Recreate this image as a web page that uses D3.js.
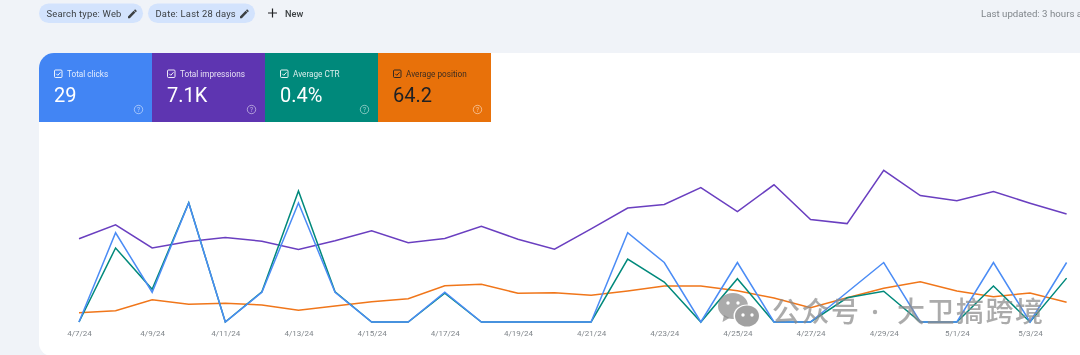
<!DOCTYPE html>
<html><head><meta charset="utf-8">
<script src="https://cdn.jsdelivr.net/npm/d3@7/dist/d3.min.js"></script>
<style>
html,body{margin:0;padding:0;background:#f0f3f8;overflow:hidden}
svg{display:block;font-family:Roboto,sans-serif;filter:blur(0.4px)}
</style></head><body>
<svg id="c" width="1080" height="355"></svg>
<script>
const dates=["4/7/24","4/8/24","4/9/24","4/10/24","4/11/24","4/12/24","4/13/24","4/14/24","4/15/24","4/16/24","4/17/24","4/18/24","4/19/24","4/20/24","4/21/24","4/22/24","4/23/24","4/24/24","4/25/24","4/26/24","4/27/24","4/28/24","4/29/24","4/30/24","5/1/24","5/2/24","5/3/24","5/4/24"];
const tickLabels=["4/7/24","4/9/24","4/11/24","4/13/24","4/15/24","4/17/24","4/19/24","4/21/24","4/23/24","4/25/24","4/27/24","4/29/24","5/1/24","5/3/24"];
const clicks=[0,3,1,4,0,1,4,1,0,0,1,0,0,0,0,3,2,0,2,0,0,1,2,0,0,2,0,2];
const impressions=[208,243,185,201,211,202,181,203,228,198,209,239,207,182,233,285,294,336,276,343,256,246,379,316,303,326,297,270];
const ctr=[0,1.13,0.5,1.82,0,0.46,2,0.46,0,0,0.44,0,0,0,0,0.96,0.61,0,0.66,0,0,0.37,0.47,0,0,0.55,0,0.67];
const position=[80.7,78.7,67.7,72.3,71.3,73,78.3,74,69.7,66.7,53.7,52.3,61.3,60.7,63.3,59,54,54,58.7,66,75.7,65.7,56.3,49.7,59,64.7,61,70.3];
const tabNames=["Total clicks","Total impressions","Average CTR","Average position"];
const tabValues=["29","7.1K","0.4%","64.2"];
const tabColors=["#4285f4","#5e35b1","#00897b","#e8710a"];
const tabInk=["#fff","#fff","#fff","#202124"];
const chips=["Search type: Web","Date: Last 28 days"];

const svg=d3.select("#c");
// card
svg.append("path").attr("fill","#fff")
 .attr("d","M1080 53H54A15 15 0 0 0 39 68V343A13 13 0 0 0 52 356H1080Z");

// filter chips
const chipBoxes=[[39,104],[148,107]];
chips.forEach((t,i)=>{
 const [x,w]=chipBoxes[i];
 const g=svg.append("g").attr("transform",`translate(${x},3.5)`);
 g.append("rect").attr("width",w).attr("height",19.5).attr("rx",9.75).attr("fill","#d3e3fd");
 g.append("text").attr("x",7.5).attr("y",13.2).attr("font-size",9.4).attr("font-weight",400).attr("letter-spacing",0.2).attr("fill","#3c4043").text(t);
 g.append("path").attr("transform",`translate(${w-15},4.7)`).attr("fill","#3c4043")
  .attr("d","M0 8.2V10H1.8L7.4 4.4 5.6 2.6ZM8.6 3.2a.5.5 0 0 0 0-.7L7.5 1.4a.5.5 0 0 0-.7 0L6 2.2 7.8 4Z");
});
svg.append("path").attr("d","M272.500 8.500v9M268 13h9").attr("stroke","#202124").attr("stroke-width",1.2).attr("fill","none");
svg.append("text").attr("x",285).attr("y",16.500).attr("font-size",9.2).attr("font-weight",500).attr("fill","#3c4043").text("New");
svg.append("text").attr("x",981).attr("y",16.500).attr("font-size",9.7).attr("fill","#80868b").text("Last updated: 3 hours ago");

// metric tabs
const tabX=d3.scaleBand().domain(tabNames).range([39,491]);
const tabs=svg.selectAll("g.tab").data(tabNames).join("g").attr("class","tab")
 .attr("transform",d=>`translate(${tabX(d)},53)`);
tabs.append("path").attr("fill",(d,i)=>tabColors[i])
 .attr("d",(d,i)=>i==0?`M0 69V15A15 15 0 0 1 15 0H${tabX.bandwidth()}V69Z`:`M0 0H${tabX.bandwidth()}V69H0Z`);
tabs.append("rect").attr("x",15.500).attr("y",17).attr("width",7.500).attr("height",7.500).attr("rx",1).attr("fill","none").attr("stroke-width",0.9).attr("stroke",(d,i)=>tabInk[i]);
tabs.append("path").attr("d","M17.300 20.800l1.500 1.500 2.700-3").attr("fill","none").attr("stroke-width",0.9).attr("stroke",(d,i)=>tabInk[i]);
tabs.append("text").attr("x",28).attr("y",23.800).attr("font-size",8.2).attr("fill",(d,i)=>tabInk[i]).attr("opacity",.85).text(d=>d);
tabs.append("text").attr("x",15).attr("y",49.300).attr("font-size",20).attr("fill",(d,i)=>tabInk[i]).text((d,i)=>tabValues[i]);
tabs.append("circle").attr("cx",99.500).attr("cy",56.500).attr("r",4.200).attr("fill","none").attr("stroke","#fff").attr("stroke-opacity",.55).attr("stroke-width",.9);
tabs.append("text").attr("x",99.500).attr("y",59).attr("text-anchor","middle").attr("font-size",6.500).attr("fill","#fff").attr("fill-opacity",.6).text("?");

// scales
const x=d3.scalePoint().domain(dates).range([79,1066.6]);
const yClicks=d3.scaleLinear().domain([0,4]).range([322,203]);
const yImp=d3.scaleLinear().domain([0,400]).range([322,162]);
const yCtr=d3.scaleLinear().domain([0,2]).range([322,191]);
const yPos=d3.scaleLinear().domain([0,90]).range([232,322]);

// axis
const ax=svg.append("g").attr("transform","translate(0,330.5)")
 .call(d3.axisBottom(x).tickValues(tickLabels).tickSize(0).tickPadding(0));
ax.select(".domain").remove();
ax.selectAll("text").attr("font-family","Roboto,sans-serif").attr("font-size",8).attr("fill","#80868b");

// lines
const series=[[position,yPos,"#f0761a"],[impressions,yImp,"#6a3fc0"],[ctr,yCtr,"#00897b"],[clicks,yClicks,"#4b8cf5"]];
series.forEach(([vals,y,col])=>{
 svg.append("path").datum(vals).attr("fill","none").attr("stroke",col).attr("stroke-width",1.5).attr("stroke-linejoin","miter")
  .attr("d",d3.line().x((d,i)=>x(dates[i])).y(d=>y(d)));
});

// watermark
const wm=svg.append("g").attr("fill","#8a8a8a").attr("fill-opacity",.72);
wm.append("ellipse").attr("cx",733).attr("cy",306).attr("rx",15).attr("ry",13);
wm.append("path").attr("d","M724 315l-1.500 7 7-4Z");
wm.append("ellipse").attr("cx",747).attr("cy",316).attr("rx",13.500).attr("ry",11.500).attr("fill","#fff").attr("fill-opacity",1);
wm.append("ellipse").attr("cx",747).attr("cy",316).attr("rx",12).attr("ry",10.500).attr("fill-opacity",.8);
[[728,303],[738,303],[743,315],[752,315]].forEach(p=>wm.append("circle").attr("cx",p[0]).attr("cy",p[1]).attr("r",1.700).attr("fill","#fff").attr("fill-opacity",1));
const wmFont="'Noto Sans CJK SC',sans-serif";
wm.append("text").attr("x",772).attr("y",321.500).attr("font-family",wmFont).attr("font-weight",500).attr("font-size",28).attr("letter-spacing",1.500).text("公众号");
wm.append("circle").attr("cx",875).attr("cy",312).attr("r",2.2);
wm.append("text").attr("x",897).attr("y",321.500).attr("font-family",wmFont).attr("font-weight",500).attr("font-size",28).attr("letter-spacing",1.500).text("大卫搞跨境");
</script></body></html>
